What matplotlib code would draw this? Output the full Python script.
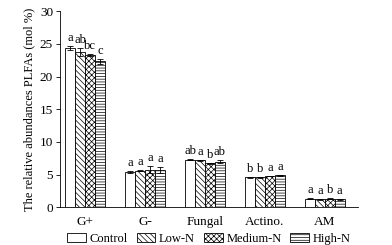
import matplotlib
matplotlib.use("Agg")
import matplotlib.pyplot as plt
import numpy as np

categories = ["G+", "G-", "Fungal", "Actino.", "AM"]
treatments = ["Control", "Low-N", "Medium-N", "High-N"]

values = {
    "Control": [24.35, 5.38, 7.28, 4.56, 1.33],
    "Low-N": [23.8, 5.58, 7.2, 4.6, 1.22],
    "Medium-N": [23.25, 5.74, 6.77, 4.8, 1.33],
    "High-N": [22.35, 5.7, 7.0, 4.9, 1.22],
}
errors = {
    "Control": [0.35, 0.12, 0.08, 0.05, 0.05],
    "Low-N": [0.65, 0.08, 0.05, 0.08, 0.05],
    "Medium-N": [0.15, 0.55, 0.08, 0.05, 0.05],
    "High-N": [0.35, 0.45, 0.2, 0.08, 0.05],
}
letters = {
    "Control": ["a", "a", "ab", "b", "a"],
    "Low-N": ["ab", "a", "a", "b", "a"],
    "Medium-N": ["bc", "a", "b", "a", "b"],
    "High-N": ["c", "a", "ab", "a", "a"],
}

HATCHES = {"Control": "", "Low-N": "\\\\\\\\\\\\", "Medium-N": "xxxxxx", "High-N": "------"}

plt.rcParams.update({
    "font.family": "Liberation Serif",
    "font.size": 9,
    "hatch.linewidth": 0.5,
    "hatch.color": "#444444",
})

fig = plt.figure(figsize=(3.92, 2.45), dpi=100)
ax = fig.add_axes([0.153, 0.154, 0.76, 0.80])

x = np.arange(len(categories))
bar_width = 0.165
for i, t in enumerate(treatments):
    offset = (i - 1.5) * bar_width
    ax.bar(x + offset, values[t], width=bar_width, color="white", edgecolor="black",
           hatch=HATCHES[t], linewidth=0.6, label=t)
    ax.errorbar(x + offset, values[t], yerr=errors[t], fmt="none", ecolor="black",
                elinewidth=0.6, capsize=2.2, capthick=0.6)
    for xi, v, e, lab in zip(x + offset, values[t], errors[t], letters[t]):
        ax.text(xi, v + e + 0.3, lab, ha="center", va="bottom", fontsize=9)

ax.set_xlim(-0.42, 4.55)
ax.set_ylim(0, 30)
ax.set_yticks(range(0, 31, 5))
ax.set_xticks(x)
ax.set_xticklabels(categories, fontsize=9.5)
ax.tick_params(axis="x", length=0, pad=6)
ax.tick_params(axis="y", length=3, width=0.6, labelsize=9.5, pad=2)
ax.spines["top"].set_visible(False)
ax.spines["right"].set_visible(False)
ax.spines["left"].set_linewidth(0.6)
ax.spines["bottom"].set_linewidth(0.6)
ax.set_ylabel("The relative abundances PLFAs (mol %)", fontsize=9, labelpad=3)

ax.legend(loc="upper center", bbox_to_anchor=(0.5, -0.13), ncol=4, frameon=False,
          fontsize=9, handlelength=1.5, handleheight=0.65, handletextpad=0.3,
          columnspacing=0.7, borderaxespad=0, borderpad=0)

fig.savefig("out.png", dpi=100)
